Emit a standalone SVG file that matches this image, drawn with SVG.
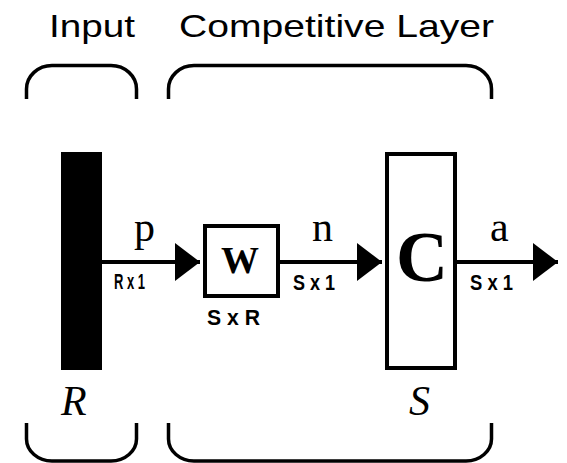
<svg xmlns="http://www.w3.org/2000/svg" width="567" height="463" viewBox="0 0 567 463">
<style>
.br{fill:none;stroke:#000;stroke-width:3.5}
.ln{fill:none;stroke:#000;stroke-width:4}
.box{fill:#fff;stroke:#000;stroke-width:4}
.title{font-family:"Liberation Sans",Arial,sans-serif;font-size:32px;fill:#000}
.sym{font-family:"Liberation Serif","Times New Roman",serif;font-size:42px;fill:#000}
.ital{font-family:"Liberation Serif","Times New Roman",serif;font-style:italic;font-size:42px;fill:#000}
.dim{font-family:"Liberation Sans",Arial,sans-serif;font-weight:bold;font-size:22px;fill:#000}
</style>
<defs>
<marker id="ah" viewBox="0 0 25 38" refX="25" refY="19" markerWidth="25" markerHeight="38" markerUnits="userSpaceOnUse" orient="auto">
<path d="M0 0 L25 19 L0 38 Z" fill="#000"/>
</marker>
</defs>
<g id="titles">
<text class="title" x="49" y="36.5" textLength="86" lengthAdjust="spacingAndGlyphs">Input</text>
<text class="title" x="179" y="36.5" textLength="315" lengthAdjust="spacingAndGlyphs">Competitive Layer</text>
</g>
<g id="brackets">
<path class="br" d="M26.5 99 V89 C26.5 76 38 65.5 52 65.5 H111 C125 65.5 136.5 76 136.5 89 V99"/>
<path class="br" d="M168.5 99 V89 C168.5 76 180 65.5 194 65.5 H466 C480 65.5 491.5 76 491.5 89 V99"/>
<path class="br" d="M26.5 423 V439 C26.5 451 38 461 52 461 H111 C125 461 136.5 451 136.5 439 V423"/>
<path class="br" d="M168.5 423 V439 C168.5 451 180 461 194 461 H466 C480 461 491.5 451 491.5 439 V423"/>
</g>
<g id="connectors">
<line class="ln" x1="102" y1="262" x2="200" y2="262" marker-end="url(#ah)"/>
<line class="ln" x1="280" y1="262" x2="382" y2="262" marker-end="url(#ah)"/>
<line class="ln" x1="457" y1="262" x2="558" y2="262" marker-end="url(#ah)"/>
</g>
<g id="input">
<rect x="61" y="152" width="41" height="218" fill="#000"/>
<text class="ital" x="61" y="415">R</text>
</g>
<g id="labels">
<text class="sym" x="134" y="241">p</text>
<text class="dim" x="114" y="289" textLength="31" lengthAdjust="spacingAndGlyphs">R x 1</text>
<text class="sym" x="312" y="241">n</text>
<text class="dim" x="293" y="290" textLength="42" lengthAdjust="spacingAndGlyphs">S x 1</text>
<text class="sym" x="490" y="241">a</text>
<text class="dim" x="470" y="290" textLength="43" lengthAdjust="spacingAndGlyphs">S x 1</text>
</g>
<g id="weights">
<rect class="box" x="205" y="226" width="73" height="70"/>
<text x="240" y="273" text-anchor="middle" style="font-family:'Liberation Serif','Times New Roman',serif;font-weight:bold;font-size:38px">W</text>
<text class="dim" x="207" y="325" textLength="53" lengthAdjust="spacingAndGlyphs">S x R</text>
</g>
<g id="competitive">
<rect class="box" x="387" y="154" width="68" height="214"/>
<text x="422" y="281" text-anchor="middle" style="font-family:'Liberation Serif','Times New Roman',serif;font-weight:bold;font-size:72px">C</text>
<text class="ital" x="409" y="415">S</text>
</g>
</svg>
